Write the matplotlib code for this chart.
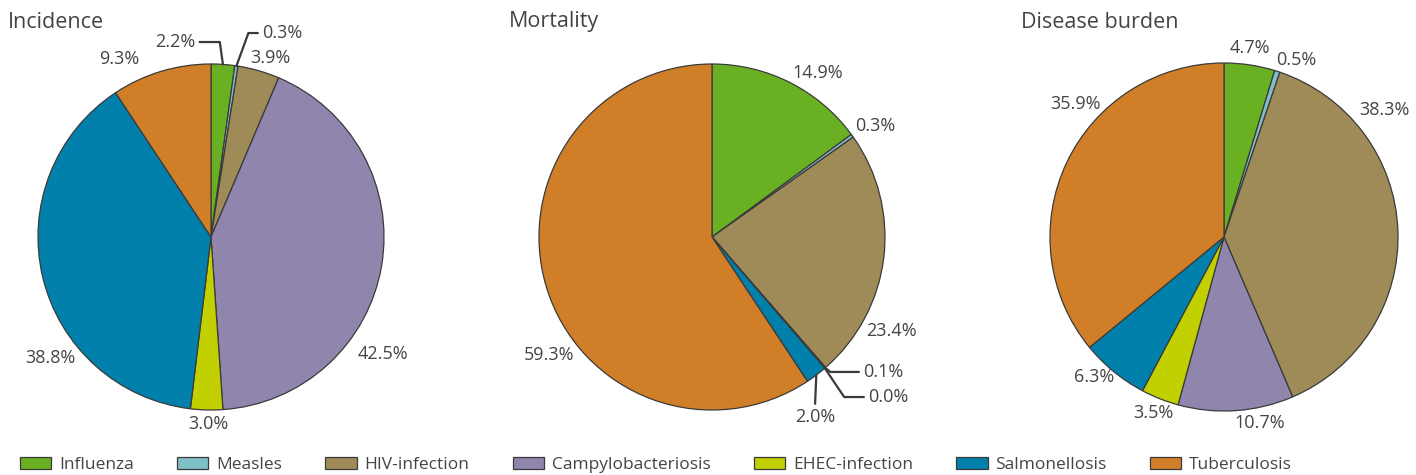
import numpy as np
import matplotlib.pyplot as plt
from matplotlib.patches import Patch

plt.rcParams['font.family'] = ['Open Sans', 'DejaVu Sans']

diseases = ['Influenza', 'Measles', 'HIV-infection', 'Campylobacteriosis',
            'EHEC-infection', 'Salmonellosis', 'Tuberculosis']
colors = ['#6ab023', '#7fc0c6', '#9e8b57', '#9085ad', '#c2cf00', '#0080aa', '#d07f28']

incidence = [2.2, 0.3, 3.9, 42.5, 3.0, 38.8, 9.3]
mortality = [14.9, 0.3, 23.4, 0.1, 0.0, 2.0, 59.3]
burden = [4.7, 0.5, 38.3, 10.7, 3.5, 6.3, 35.9]

W, H = 1416, 475
TXT = '#444444'
EDGE = '#3a3a3a'

# label positions in units of pie radius (layout only)
lab_inc = [(-0.09, 1.127), (0.295, 1.179), (0.341, 1.035), (0.994, -0.676),
           (-0.017, -1.081), (-0.93, -0.70), (-0.532, 1.029)]
lab_mort = [(0.612, 0.948), (0.942, 0.642), (1.040, -0.543), (0.873, -0.780),
            (0.902, -0.925), (0.595, -1.040), (-0.942, -0.682)]
lab_bur = [(0.149, 1.086), (0.414, 1.017), (0.920, 0.730), (0.207, -1.069),
           (-0.408, -1.012), (-0.747, -0.805), (-0.856, 0.764)]

# leader lines: index -> (text anchor relpos, connectionstyle)
lead_inc = {0: ((1, 0.5), 'angle,angleA=0,angleB=98,rad=0'),
            1: ((0, 0.5), 'angle,angleA=0,angleB=70,rad=0')}
lead_mort = {3: ((0, 0.5), 'angle,angleA=0,angleB=-38,rad=0'),
             4: ((0, 0.5), 'angle,angleA=0,angleB=-56,rad=0'),
             5: ((0.5, 1), 'arc3,rad=0')}

panels = [
    ('Incidence', incidence, 211, 237, 173, 8, lab_inc, lead_inc),
    ('Mortality', mortality, 712, 237, 173, 509, lab_mort, lead_mort),
    ('Disease burden', burden, 1224, 237, 174, 1021, lab_bur, {}),
]

fig = plt.figure(figsize=(W / 100, H / 100), dpi=100)

for title, vals, cx, cy, r, tx, labs, leads in panels:
    ax = fig.add_axes([(cx - r) / W, (H - cy - r) / H, 2 * r / W, 2 * r / H])
    wedges, _ = ax.pie(vals, colors=colors, startangle=90, counterclock=False,
                       radius=1, wedgeprops=dict(edgecolor=EDGE, linewidth=0.9))
    ax.set_xlim(-1, 1)
    ax.set_ylim(-1, 1)
    ax.axis('off')
    for i, (w, v) in enumerate(zip(wedges, vals)):
        lx, ly = labs[i]
        s = f'{v:.1f}%'
        if i in leads:
            mid = np.deg2rad((w.theta1 + w.theta2) / 2)
            ex, ey = np.cos(mid), np.sin(mid)
            relpos, cs = leads[i]
            ha = {0: 'left', 1: 'right', 0.5: 'center'}[relpos[0]]
            ax.annotate(s, xy=(ex, ey), xytext=(lx, ly), ha=ha, va='center',
                        fontsize=13, color=TXT, annotation_clip=False,
                        arrowprops=dict(arrowstyle='-', color=EDGE, lw=1.6,
                                        relpos=relpos, connectionstyle=cs,
                                        shrinkA=1, shrinkB=0))
        else:
            ax.text(lx, ly, s, ha='center', va='center', fontsize=13, color=TXT)
    fig.text(tx / W, 1 - 22 / H, title, ha='left', va='center', fontsize=15.5, color=TXT)

handles = [Patch(facecolor=c, edgecolor=EDGE, linewidth=0.9) for c in colors]
fig.legend(handles, diseases, loc='center left', bbox_to_anchor=(6 / W, 1 - 465 / H),
           ncol=7, frameon=False, fontsize=12.5, handlelength=1.8, handleheight=0.65,
           handletextpad=0.45, columnspacing=2.5, labelcolor=TXT, borderpad=0.3)

fig.savefig('out.png', dpi=100)
